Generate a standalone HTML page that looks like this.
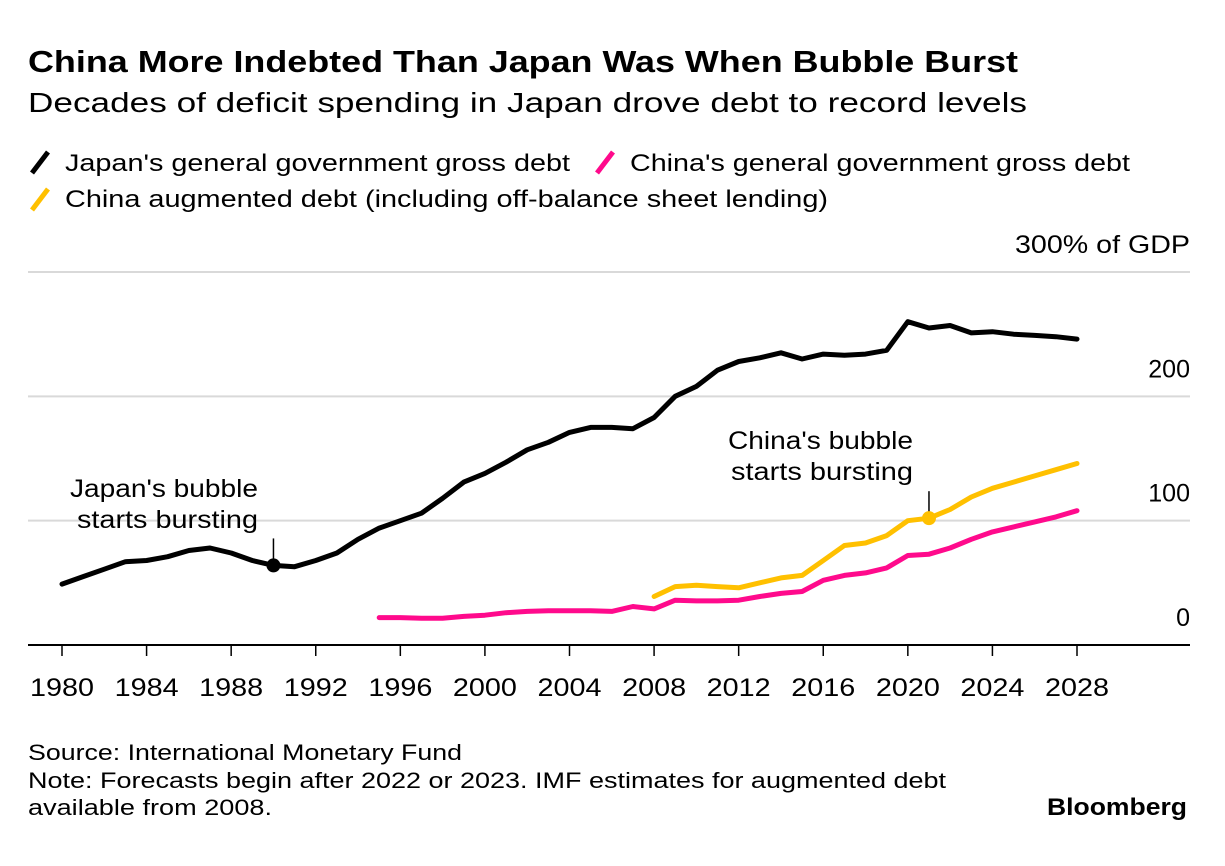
<!DOCTYPE html>
<html><head><meta charset="utf-8"><style>
body{margin:0;background:#fff;}
svg{display:block;font-family:"Liberation Sans",sans-serif;}
</style></head><body>
<svg id="chart" width="1225" height="866">
<text x="28" y="72" font-size="31" font-weight="bold" textLength="990" lengthAdjust="spacingAndGlyphs">China More Indebted Than Japan Was When Bubble Burst</text>
<text x="28" y="112" font-size="28" textLength="999" lengthAdjust="spacingAndGlyphs">Decades of deficit spending in Japan drove debt to record levels</text>
<g>
<line x1="32" y1="173" x2="48" y2="152" stroke="#000" stroke-width="5"/>
<text x="65" y="171" font-size="24" textLength="505" lengthAdjust="spacingAndGlyphs">Japan's general government gross debt</text>
<line x1="597" y1="173" x2="613" y2="152" stroke="#ff0a8c" stroke-width="5"/>
<text x="630" y="171" font-size="24" textLength="500" lengthAdjust="spacingAndGlyphs">China's general government gross debt</text>
<line x1="32" y1="210" x2="48" y2="189" stroke="#ffc000" stroke-width="5"/>
<text x="65" y="207" font-size="24" textLength="763" lengthAdjust="spacingAndGlyphs">China augmented debt (including off-balance sheet lending)</text>
</g>
<g id="grid"></g>
<g id="xaxis"></g>
<g id="series"></g>
<g>
<text x="70" y="497" font-size="25" textLength="188" lengthAdjust="spacingAndGlyphs">Japan's bubble</text>
<text x="77" y="528" font-size="25" textLength="181" lengthAdjust="spacingAndGlyphs">starts bursting</text>
</g>
<g>
<text x="728" y="449" font-size="25" textLength="185" lengthAdjust="spacingAndGlyphs">China's bubble</text>
<text x="731" y="480" font-size="25" textLength="182" lengthAdjust="spacingAndGlyphs">starts bursting</text>
</g>
<text x="28" y="760" font-size="22" textLength="434" lengthAdjust="spacingAndGlyphs">Source: International Monetary Fund</text>
<text x="28" y="788" font-size="22" textLength="918" lengthAdjust="spacingAndGlyphs">Note: Forecasts begin after 2022 or 2023. IMF estimates for augmented debt</text>
<text x="28" y="815" font-size="22" textLength="244" lengthAdjust="spacingAndGlyphs">available from 2008.</text>
<text x="1047" y="815" font-size="24" font-weight="bold" textLength="140" lengthAdjust="spacingAndGlyphs">Bloomberg</text>
</svg>
<script>
const yTicks=[0,100,200,300];
const yTickLabels=["0","100","200","300% of GDP"];
const xTicks=[1980,1984,1988,1992,1996,2000,2004,2008,2012,2016,2020,2024,2028];
const japanStart=1980;
const japanDebt=[49,55,61,67,68,71,76,78,74,68,64,63,68,74,85,94,100,106,118,131,138,147,157,163,171,175,175,174,183,200,208,221,228,231,235,230,234,233,234,237,260,255,257,251,252,250,249,248,246];
const chinaStart=1995;
const chinaDebt=[22,22,21.5,21.5,23,24,26,27,27.5,27.5,27.5,27,31,29,36,35.5,35.5,36,39,41.5,43,52,56,58,62,72,73,78,85,91,95,99,103,108];
const augStart=2008;
const augDebt=[39,47,48,47,46,50,54,56,68,80,82,88,100,102,109,119,126,131,136,141,146];
const japanBubble=1990, chinaBubble=2021;

const NS="http://www.w3.org/2000/svg";
const X=yr=>62+(yr-1980)*(1077-62)/48;
const Y=v=>645-v*1.2433;
function mk(tag,attrs,parent){const e=document.createElementNS(NS,tag);for(const k in attrs)e.setAttribute(k,attrs[k]);parent.appendChild(e);return e;}
const grid=document.getElementById('grid');
yTicks.forEach((t,i)=>{
  if(t>0){const l=mk('line',{x1:28,x2:1190,y1:Y(t),y2:Y(t),stroke:'#d9d9d9','stroke-width':2},grid);
  
  }
  const lbl=yTickLabels[i];
  const attrs={x:1190,y:Y(t)-19,'font-size':25,'text-anchor':'end'};
  if(lbl.length>4){attrs.textLength=175;attrs.lengthAdjust='spacingAndGlyphs';}
  const tx=mk('text',attrs,grid);
  tx.textContent=lbl;
  
  
});
const xa=document.getElementById('xaxis');
const ax=mk('line',{x1:28,x2:1190,y1:645,y2:645,stroke:'#000','stroke-width':2},xa);


xTicks.forEach(t=>{
  const l=mk('line',{x1:X(t),x2:X(t),y1:645,y2:656,stroke:'#000','stroke-width':1.5},xa);
  
  
  const tx=mk('text',{x:X(t),y:696,'font-size':25,'text-anchor':'middle',textLength:64,lengthAdjust:'spacingAndGlyphs'},xa);
  tx.textContent=t;
  
  
});
const sg=document.getElementById('series');
function line(vals,start,color,name){
  const pts=vals.map((v,i)=>X(start+i).toFixed(1)+','+Y(v).toFixed(1)).join(' ');
  const p=mk('polyline',{points:pts,fill:'none',stroke:color,'stroke-width':5,'stroke-linejoin':'round','stroke-linecap':'round'},sg);
  
  
}
line(japanDebt,japanStart,'#000','japan-debt-line');
line(chinaDebt,chinaStart,'#ff0a8c','china-debt-line');
line(augDebt,augStart,'#ffc000','china-augmented-debt-line');
function marker(yr,v,color,name){
  const l=mk('line',{x1:X(yr),x2:X(yr),y1:Y(v)-27,y2:Y(v),stroke:'#000','stroke-width':1.5},sg);
  
  
  const c=mk('circle',{cx:X(yr),cy:Y(v),r:7,fill:color},sg);
  
  
}
marker(japanBubble,japanDebt[japanBubble-japanStart],'#000','japan-bubble-marker');
marker(chinaBubble,augDebt[chinaBubble-augStart],'#ffc000','china-bubble-marker');
</script>
</body></html>
